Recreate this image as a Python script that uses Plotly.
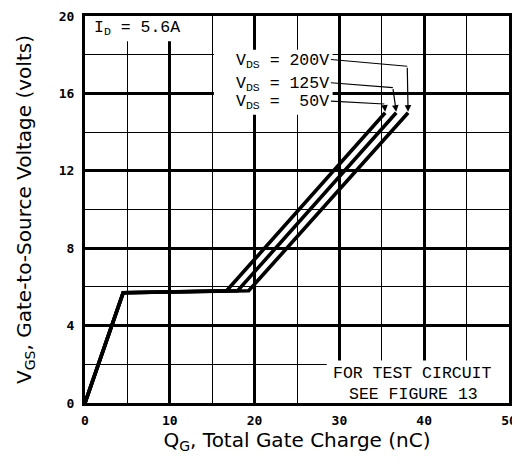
import plotly.graph_objects as go

# ---- data ----
vds_labels = ["50V", "125V", "200V"]
qg_50 = [0, 4.5, 16.7, 35.4]
vgs_50 = [0, 5.7, 5.8, 15.0]
qg_125 = [0, 4.5, 18.0, 36.7]
vgs_125 = [0, 5.7, 5.8, 15.0]
qg_200 = [0, 4.5, 19.3, 38.1]
vgs_200 = [0, 5.7, 5.8, 15.0]

x_ticks = [0, 10, 20, 30, 40, 50]
y_ticks = [0, 4, 8, 12, 16, 20]

# leader lines: label end -> corner -> arrow tip (curve end)
lead_x = {"50V": [29.0, 35.3], "125V": [29.0, 36.3], "200V": [29.0, 38.0]}
lead_y = {"50V": [15.6, 15.45], "125V": [16.55, 16.3], "200V": [17.75, 17.4]}
label_y = {"50V": 15.55, "125V": 16.5, "200V": 17.65}
label_text = {"50V": "V<sub>DS</sub> =\u00a0\u00a050V",
              "125V": "V<sub>DS</sub> = 125V",
              "200V": "V<sub>DS</sub> = 200V"}
curves = {"50V": (qg_50, vgs_50), "125V": (qg_125, vgs_125), "200V": (qg_200, vgs_200)}

fig = go.Figure()

for name in vds_labels:
    qx, vy = curves[name]
    fig.add_trace(go.Scatter(x=qx, y=vy, mode="lines", name=name,
                             line=dict(color="black", width=3.6),
                             showlegend=False, hoverinfo="skip"))

for name in vds_labels:
    fig.add_trace(go.Scatter(x=lead_x[name], y=lead_y[name], mode="lines",
                             line=dict(color="black", width=1.1),
                             showlegend=False, hoverinfo="skip"))

mono = "Liberation Mono"
annotations = []
for name in vds_labels:
    qx, vy = curves[name]
    annotations.append(dict(x=qx[-1], y=vy[-1] + 0.05, xref="x", yref="y",
                            ax=lead_x[name][-1], ay=lead_y[name][-1],
                            axref="x", ayref="y", text="", showarrow=True,
                            arrowhead=2, arrowsize=1.1, arrowwidth=1.2,
                            arrowcolor="black"))
    annotations.append(dict(x=29.0, y=label_y[name], xref="x", yref="y",
                            text=label_text[name], showarrow=False,
                            xanchor="right", yanchor="middle",
                            font=dict(family=mono, size=16.5, color="black")))

annotations.append(dict(x=0.8, y=19.4, xref="x", yref="y",
                        text="I<sub>D</sub> = 5.6A", showarrow=False,
                        xanchor="left", yanchor="middle",
                        font=dict(family=mono, size=16.5, color="black")))
annotations.append(dict(x=38.6, y=1.54, xref="x", yref="y",
                        text="FOR TEST CIRCUIT", showarrow=False,
                        xanchor="center", yanchor="middle",
                        font=dict(family=mono, size=16.5, color="black")))
annotations.append(dict(x=38.7, y=0.46, xref="x", yref="y",
                        text="SEE FIGURE 13", showarrow=False,
                        xanchor="center", yanchor="middle",
                        font=dict(family=mono, size=16.5, color="black")))

shapes = [
    dict(type="rect", xref="x", yref="y", x0=0, x1=12, y0=18.7, y1=20,
         fillcolor="white", line=dict(width=0), layer="between"),
    dict(type="rect", xref="x", yref="y", x0=15.2, x1=29.2, y0=14.9, y1=18.25,
         fillcolor="white", line=dict(width=0), layer="between"),
    dict(type="rect", xref="x", yref="y", x0=28.5, x1=50, y0=0, y1=2.2,
         fillcolor="white", line=dict(width=0), layer="between"),
]

title_font = dict(family="DejaVu Sans", size=20, color="black")
tick_font = dict(family="DejaVu Sans Mono", size=13, color="black", weight="bold")

# the page body adds an 8px offset, so the figure is sized to fit the window
fig.update_layout(
    width=512, height=456,
    margin=dict(l=77, r=11, t=8, b=61),
    paper_bgcolor="white", plot_bgcolor="white",
    annotations=annotations, shapes=shapes,
    xaxis=dict(range=[0, 50], tickvals=x_ticks, ticktext=[str(v) for v in x_ticks],
               showgrid=True, gridcolor="black", gridwidth=2.5,
               minor=dict(dtick=5, showgrid=True, gridcolor="black", gridwidth=1),
               showline=True, linecolor="black", linewidth=3, mirror=True,
               zeroline=False, ticks="", tickfont=tick_font, ticklabelstandoff=3,
               automargin=False,
               title=dict(text="Q<sub>G</sub>, Total Gate Charge (nC)",
                          font=title_font, standoff=6),
               fixedrange=True),
    yaxis=dict(range=[0, 20], tickvals=y_ticks, ticktext=[str(v) for v in y_ticks],
               showgrid=True, gridcolor="black", gridwidth=2.5,
               minor=dict(dtick=2, showgrid=True, gridcolor="black", gridwidth=1),
               showline=True, linecolor="black", linewidth=3, mirror=True,
               zeroline=False, ticks="", tickfont=tick_font, ticklabelstandoff=5,
               automargin=False,
               title=dict(text="V<sub>GS</sub>, Gate-to-Source Voltage (volts)",
                          font=title_font, standoff=22),
               fixedrange=True),
)

fig.write_html("out.html")
